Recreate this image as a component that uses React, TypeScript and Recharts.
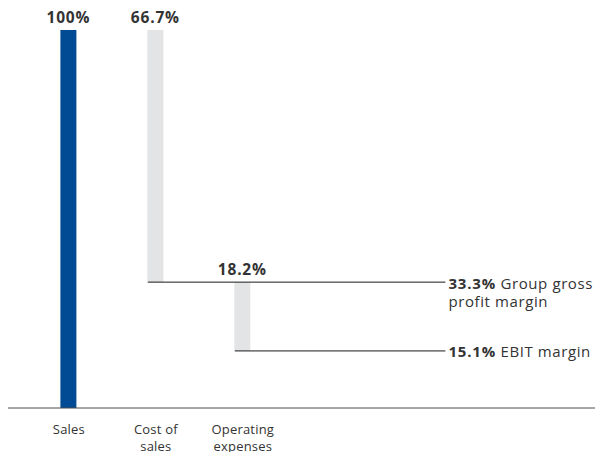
import React from 'react';
import { ComposedChart, Bar, XAxis, YAxis, ReferenceLine, LabelList, Cell } from 'recharts';

// ---- data ----
const categories = ['Sales', 'Cost of\nsales', 'Operating\nexpenses'];
const barLow = [0, 33.3, 15.1];
const barHigh = [100, 100, 33.3];
const barLabels = ['100%', '66.7%', '18.2%'];
const barColors = ['#004b93', '#e3e4e5', '#e3e4e5'];

const marginValues = [33.3, 15.1];
const marginPercents = ['33.3%', '15.1%'];
const marginTexts = [['Group gross', 'profit margin'], ['EBIT margin']];
const marginFromBar = [1, 2];

const data = categories.map((c, i) => ({
  x: i,
  name: c,
  range: [barLow[i], barHigh[i]],
  label: barLabels[i],
}));

// ---- layout ----
const W = 595;
const H = 452;
const M = { top: 30, right: 0, bottom: 0, left: 8 };
const AXIS_H = 44;
const X_DOMAIN: [number, number] = [-0.7, 6.05];
const BAR = 16;
const unitPx = (W - M.left - M.right) / (X_DOMAIN[1] - X_DOMAIN[0]);
const halfBarUnits = BAR / 2 / unitPx;
const CONNECTOR_END = 4.33;
const FONT = '"Open Sans", sans-serif';
const TEXT = '#333333';

const CategoryTick = (props: any) => {
  const { x, y, payload } = props;
  const lines = String(categories[payload.value] ?? '').split('\n');
  return (
    <text x={x} y={y} textAnchor="middle" fill={TEXT} fontFamily={FONT} fontSize={13} letterSpacing={0.2}>
      {lines.map((l, k) => (
        <tspan key={k} x={x} dy={k === 0 ? 26 : 16.5}>
          {l}
        </tspan>
      ))}
    </text>
  );
};

const TopLabel = (props: any) => {
  const { x, y, width, height, value } = props;
  const top = Math.min(Number(y), Number(y) + Number(height));
  return (
    <text
      x={Number(x) + Number(width) / 2}
      y={top - 7}
      textAnchor="middle"
      fill={TEXT}
      fontFamily={FONT}
      fontSize={15.5}
      fontWeight={700}
      letterSpacing={0.8}
    >
      {value}
    </text>
  );
};

const MarginLabel = (props: any) => {
  const { viewBox, idx } = props;
  if (!viewBox) return null;
  const x = viewBox.x + viewBox.width + 3;
  const y = viewBox.y + 6.5;
  const lines = marginTexts[idx];
  return (
    <text x={x} y={y} fill={TEXT} fontFamily={FONT} fontSize={15}>
      <tspan fontWeight={700} letterSpacing={0.8}>{marginPercents[idx]}</tspan>
      <tspan letterSpacing={0.6}>{'\u00a0' + lines[0]}</tspan>
      {lines.slice(1).map((l, k) => (
        <tspan key={k} x={x} dy={18} letterSpacing={0.6}>
          {l}
        </tspan>
      ))}
    </text>
  );
};

export default function App() {
  return (
    <div style={{ position: 'absolute', left: 0, top: 0, width: W, height: H, background: '#fff' }}>
      <ComposedChart width={W} height={H} data={data} margin={M}>
        <XAxis
          dataKey="x"
          type="number"
          domain={X_DOMAIN}
          allowDataOverflow
          ticks={[0, 1, 2]}
          interval={0}
          height={AXIS_H}
          tickLine={false}
          tickSize={0}
          tickMargin={0}
          axisLine={{ stroke: '#4d4d4d', strokeWidth: 1 }}
          tick={<CategoryTick />}
        />
        <YAxis hide domain={[0, 100]} />
        <Bar dataKey="range" barSize={BAR} isAnimationActive={false}>
          {data.map((d, i) => (
            <Cell key={i} fill={barColors[i]} />
          ))}
          <LabelList dataKey="label" content={<TopLabel />} />
        </Bar>
        {marginValues.map((v, i) => (
          <ReferenceLine
            key={i}
            ifOverflow="visible"
            segment={[
              { x: marginFromBar[i] - halfBarUnits, y: v },
              { x: CONNECTOR_END, y: v },
            ]}
            stroke="#1a1a1a"
            strokeWidth={1}
            label={<MarginLabel idx={i} />}
          />
        ))}
      </ComposedChart>
    </div>
  );
}
